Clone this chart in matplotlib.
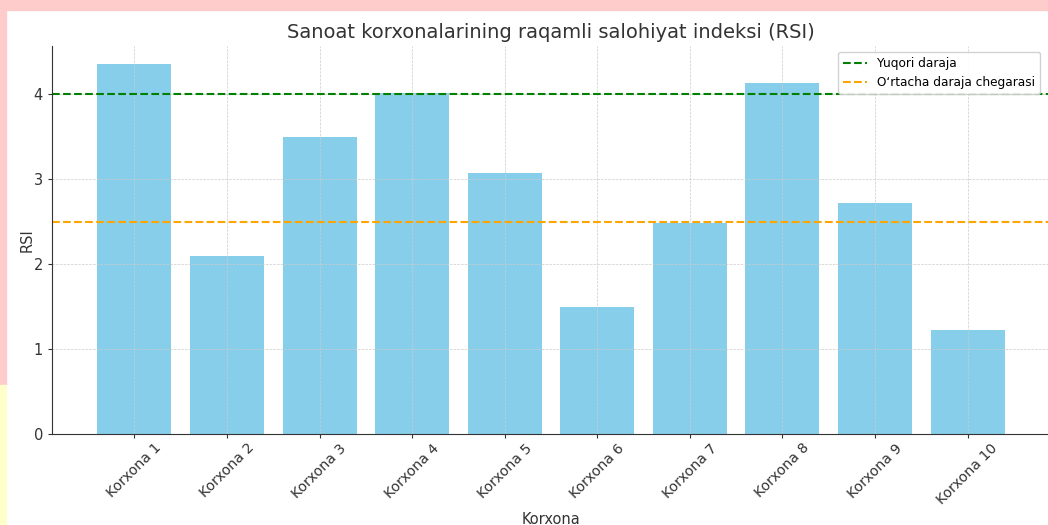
import matplotlib
matplotlib.use("Agg")
import matplotlib.pyplot as plt
from matplotlib.patches import Rectangle

# data
korxonalar = ["Korxona %d" % i for i in range(1, 11)]
rsi = [4.35, 2.10, 3.50, 4.02, 3.07, 1.50, 2.48, 4.13, 2.72, 1.23]
yuqori = 4.0
ortacha = 2.5

W, H = 1048, 525
fig = plt.figure(figsize=(W / 100, H / 100), dpi=100)

# screenshot border strips
fig.patches.append(Rectangle((0, 1 - 10 / H), 1, 10 / H, transform=fig.transFigure,
                             color="#ffcccc", zorder=-5))
fig.patches.append(Rectangle((0, 140 / H), 6 / W, 1 - 140 / H, transform=fig.transFigure,
                             color="#ffcccc", zorder=-5))
fig.patches.append(Rectangle((0, 0), 6 / W, 140 / H, transform=fig.transFigure,
                             color="#ffffcc", zorder=-5))

ax = fig.add_axes([52 / W, 1 - 434 / H, 998 / W, 388 / H])
ax.bar(korxonalar, rsi, color="skyblue", width=0.8)
ax.axhline(yuqori, color="green", linestyle="--", linewidth=1.5, label="Yuqori daraja")
ax.axhline(ortacha, color="orange", linestyle="--", linewidth=1.5, label="O\u2018rtacha daraja chegarasi")

ax.set_title("Sanoat korxonalarining raqamli salohiyat indeksi (RSI)", fontsize=14,
             color="#333333", pad=6)
ax.set_xlabel("Korxona", fontsize=10.5, color="#333333", labelpad=0)
ax.xaxis.set_label_coords(0.5, -0.2)
ax.set_ylabel("RSI", fontsize=10.5, color="#333333")
ax.yaxis.set_label_coords(-0.017, 0.5)
ax.set_yticks([0, 1, 2, 3, 4])
ax.tick_params(axis="x", labelrotation=45, labelsize=10.2, colors="#333333", length=3, pad=2)
ax.tick_params(axis="y", labelsize=10.5, colors="#333333", length=3)
ax.grid(True, linestyle="--", linewidth=0.5, color="#cccccc")
for s in ["top", "right"]:
    ax.spines[s].set_visible(False)
for s in ["left", "bottom"]:
    ax.spines[s].set_color("#333333")

ax.legend(loc="upper right", fontsize=8.7, bbox_to_anchor=(0.996, 1.0), framealpha=0.9)

fig.savefig("out.png", dpi=100)
